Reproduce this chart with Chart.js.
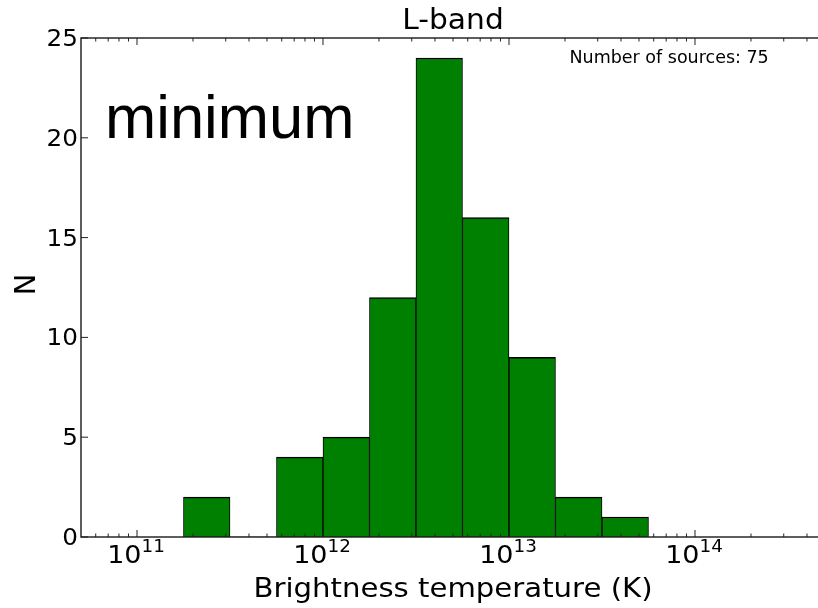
<!DOCTYPE html>
<html><head><meta charset="utf-8">
<script src="https://cdn.jsdelivr.net/npm/chart.js@4"></script>
<style>
html,body{margin:0;padding:0;background:#fff;overflow:hidden;width:818px;height:608px}
#wrap{width:826px;height:608px;position:relative}
</style>
</head><body><div id="wrap"><canvas id="c" width="826" height="608"></canvas></div>
<script>
// Histogram bins (brightness temperature, K) and counts
const binLower = [1.778e11, 3.162e11, 5.623e11, 1e12, 1.778e12, 3.162e12, 5.623e12, 1e13, 1.778e13, 3.162e13];
const binUpper = [3.162e11, 5.623e11, 1e12, 1.778e12, 3.162e12, 5.623e12, 1e13, 1.778e13, 3.162e13, 5.623e13];
const counts   = [2, 0, 4, 5, 12, 24, 16, 9, 2, 1];

// Axis ticks / labels
const xMajorTicks = [1e11, 1e12, 1e13, 1e14];
const xTickBase = '10';
const xTickExps = ['11', '12', '13', '14'];
const yTicks = [0, 5, 10, 15, 20, 25];
const titleText = 'L-band';
const xAxisLabel = 'Brightness temperature (K)';
const yAxisLabel = 'N';
const annotationText = 'Number of sources: 75';
const overlayText = 'minimum';

const barData = counts.map((c, i) => ({ x: Math.sqrt(binLower[i] * binUpper[i]), y: c }));

const FONT = '"DejaVu Sans", sans-serif';
const SX = 1.08;

function drawText(ctx, txt, x, y, font, align, sx, rot) {
  ctx.save();
  ctx.translate(x, y);
  if (rot) ctx.rotate(rot);
  ctx.scale(sx || 1, 1);
  ctx.font = font;
  ctx.textAlign = align || 'left';
  ctx.textBaseline = 'alphabetic';
  ctx.fillStyle = '#000';
  ctx.fillText(txt, 0, 0);
  ctx.restore();
}

const deco = {
  id: 'deco',
  afterDraw(chart) {
    const { ctx, chartArea: a, scales: { x, y } } = chart;
    ctx.save();
    const line = (x1, y1, x2, y2) => { ctx.beginPath(); ctx.moveTo(x1, y1); ctx.lineTo(x2, y2); ctx.stroke(); };
    ctx.strokeStyle = '#222';
    // x ticks (major + minor), inward, top and bottom
    ctx.lineWidth = 1;
    for (let e = 10; e <= 14; e++) {
      for (let m = 1; m <= 9; m++) {
        const v = m * Math.pow(10, e);
        const px = x.getPixelForValue(v);
        if (px < a.left + 0.5 || px > a.right - 0.5) continue;
        const len = m === 1 ? 7 : 3.5;
        line(px, a.bottom, px, a.bottom - len);
        line(px, a.top, px, a.top + len);
      }
    }
    // y ticks
    yTicks.forEach(v => {
      const py = y.getPixelForValue(v);
      line(a.left, py, a.left + 7, py);
      line(a.right, py, a.right - 7, py);
      drawText(ctx, String(v), a.left - 3, py + 8, '23.5px ' + FONT, 'right', 1.05);
    });
    // spines
    ctx.lineWidth = 1.4;
    ctx.strokeStyle = '#1a1a1a';
    ctx.strokeRect(a.left, a.top, a.right - a.left, a.bottom - a.top);

    // x tick labels 10^n
    xMajorTicks.forEach((v, i) => {
      const px = x.getPixelForValue(v);
      ctx.font = '25px ' + FONT;
      const wb = ctx.measureText(xTickBase).width * SX;
      ctx.font = '17px ' + FONT;
      const we = ctx.measureText(xTickExps[i]).width * SX;
      const start = px - (wb + we) / 2 - 1;
      drawText(ctx, xTickBase, start, 563, '25px ' + FONT, 'left', SX);
      drawText(ctx, xTickExps[i], start + wb, 551.5, '17px ' + FONT, 'left', SX);
    });

    const cx = (a.left + a.right) / 2;
    drawText(ctx, titleText, cx, 29, '27.5px ' + FONT, 'center', SX);
    drawText(ctx, xAxisLabel, cx, 597, '27px ' + FONT, 'center', SX);
    drawText(ctx, yAxisLabel, 35, (a.top + a.bottom) / 2 - 3, '29px ' + FONT, 'center', 1, -Math.PI / 2);
    drawText(ctx, annotationText, 569.5, 63, '17.5px ' + FONT, 'left', 1);
    drawText(ctx, overlayText, 105, 137.5, '61.5px "Liberation Sans", Arial, sans-serif', 'left', 1);
    ctx.restore();
  }
};

new Chart(document.getElementById('c'), {
  type: 'bar',
  data: {
    datasets: [{
      data: barData,
      backgroundColor: '#008000',
      borderColor: '#000',
      borderWidth: (c) => (c.raw && c.raw.y === 0) ? 0 : { top: 1.5, left: 1, right: 1, bottom: 0 },
      borderSkipped: false,
      // bar width = pixel width of one bin on the log x scale
      barThickness: (c) => {
        const s = c.chart.scales.x;
        if (!s) return 40;
        return Math.abs(s.getPixelForValue(binUpper[0]) - s.getPixelForValue(binLower[0]));
      },
      barPercentage: 1,
      categoryPercentage: 1
    }]
  },
  options: {
    responsive: false,
    animation: false,
    events: [],
    layout: { padding: { top: 38, right: 1, left: 0, bottom: 0 } },
    plugins: { legend: { display: false }, tooltip: { enabled: false }, title: { display: false } },
    scales: {
      x: {
        type: 'logarithmic',
        min: 5e10, max: 5e14,
        offset: false,
        grid: { display: false },
        border: { display: false },
        ticks: { display: false },
        afterFit: (s) => { s.height = 71; }
      },
      y: {
        type: 'linear',
        min: 0, max: 25,
        grid: { display: false },
        border: { display: false },
        ticks: { display: false, stepSize: 5 },
        afterFit: (s) => { s.width = 81; }
      }
    }
  },
  plugins: [deco]
});
</script>
</body></html>
